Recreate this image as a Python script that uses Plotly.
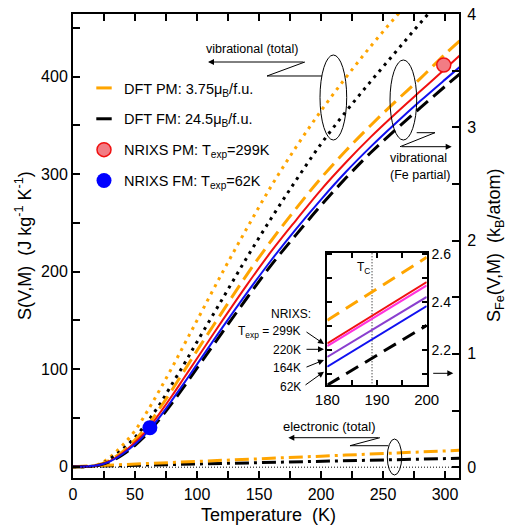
import plotly.graph_objects as go

# ---------------- data ----------------
T = [0, 10, 20, 30, 40, 50, 60, 70, 80, 90, 100, 120, 140, 160, 180, 200, 220, 240, 260, 280, 300, 312]
S_vib_total_PM = [0, 0, 2, 10, 22, 37, 57, 79, 102, 126, 150, 198, 244, 288, 328, 365, 399, 431, 461, 490, 518, 534]
S_vib_total_FM = [0, 0, 1.5, 8, 18, 30, 46, 64, 85, 106, 128, 171, 214, 255, 294, 331, 364, 395, 425, 455, 484, 501]
S_vib_Fe_PM = [0, 0.25, 1.8, 7, 15.5, 27.5, 42, 60, 79, 99, 119, 158, 196.5, 232, 265, 296, 324, 350, 374.5, 398, 423, 437]
S_nrixs_299K = [0, 0.2, 1.5, 6, 14, 25, 38, 55, 73, 92, 111, 149, 186, 221, 253, 284, 312, 338, 362, 385, 408, 422]
S_nrixs_62K = [0, 0.2, 1.4, 5.5, 13, 23, 35.5, 51, 68.5, 86.5, 105, 141.8, 177.7, 212, 244, 274, 302.2, 328, 352, 375, 397, 410]
S_vib_Fe_FM = [0, 0.2, 1.3, 5.2, 12.3, 22, 34, 49, 65.5, 83, 101, 137, 172.5, 207, 238, 268, 296, 322, 345.5, 368, 390, 403]
S_el_PM = [0, 0.5, 1.1, 1.6, 2.2, 2.7, 3.2, 3.8, 4.3, 4.9, 5.4, 6.5, 7.6, 8.6, 9.7, 10.8, 11.9, 13.0, 14.0, 15.1, 16.2, 16.8]
S_el_FM = [0, 0.3, 0.6, 0.8, 1.1, 1.4, 1.7, 1.9, 2.2, 2.5, 2.8, 3.3, 3.9, 4.4, 5.0, 5.5, 6.1, 6.6, 7.2, 7.8, 8.3, 8.6]
T_zero = [0, 312]
S_zero = [0, 0]

NRIXS_PM_T = [299]
NRIXS_PM_S = [412]
NRIXS_FM_T = [62]
NRIXS_FM_S = [40]

# inset (k_B/atom)
inset_T = [180, 200]
inset_DFT_PM = [2.324, 2.586]
inset_299K = [2.228, 2.483]
inset_220K = [2.217, 2.469]
inset_164K = [2.172, 2.421]
inset_62K = [2.131, 2.383]
inset_DFT_FM = [2.055, 2.303]
T_C = 189
inset_TC_y = [2.0, 2.7]

ORANGE = "#FFA500"
RED = "#F01010"
BLUE = "#1010F0"
MAGENTA = "#FF33DD"
PURPLE = "#8A3FCF"
FONT = "Liberation Sans, Arial, Helvetica, sans-serif"

W, H = 506, 527
ML, MR, MT, MB = 73, 47, 14, 49


def px(x):
    return (x - ML) / (W - ML - MR)


def py(y):
    return (H - MB - y) / (H - MT - MB)


fig = go.Figure()

DOT = "3px,5px"
DASH = "15px,7px"
DASHDOT = "14px,5px,3px,5px"

# zero reference (also anchors the right axis)
fig.add_trace(go.Scatter(x=T_zero, y=S_zero, mode="lines", yaxis="y2", showlegend=False,
                         line=dict(color="black", width=1, dash="1px,2px")))
# electronic
fig.add_trace(go.Scatter(x=T, y=S_el_FM, mode="lines", showlegend=False,
                         line=dict(color="black", width=3, dash=DASHDOT)))
fig.add_trace(go.Scatter(x=T, y=S_el_PM, mode="lines", showlegend=False,
                         line=dict(color=ORANGE, width=3, dash=DASHDOT)))
# vibrational total
fig.add_trace(go.Scatter(x=T, y=S_vib_total_PM, mode="lines", showlegend=False, line_shape="spline",
                         line=dict(color=ORANGE, width=3, dash=DOT)))
fig.add_trace(go.Scatter(x=T, y=S_vib_total_FM, mode="lines", showlegend=False, line_shape="spline",
                         line=dict(color="black", width=3, dash=DOT)))
# Fe partial
fig.add_trace(go.Scatter(x=T, y=S_vib_Fe_PM, mode="lines", showlegend=False, line_shape="spline",
                         line=dict(color=ORANGE, width=3, dash=DASH)))
fig.add_trace(go.Scatter(x=T, y=S_vib_Fe_FM, mode="lines", showlegend=False, line_shape="spline",
                         line=dict(color="black", width=3, dash=DASH)))
fig.add_trace(go.Scatter(x=T, y=S_nrixs_299K, mode="lines", showlegend=False, line_shape="spline",
                         line=dict(color=RED, width=2)))
fig.add_trace(go.Scatter(x=T, y=S_nrixs_62K, mode="lines", showlegend=False, line_shape="spline",
                         line=dict(color=BLUE, width=2)))

# legend entries
fig.add_trace(go.Scatter(x=[None], y=[None], mode="markers", name="DFT PM: 3.75μ<sub>B</sub>/f.u.",
                         legendgroup="a",
                         marker=dict(symbol="line-ew", size=11, line=dict(width=3, color=ORANGE))))
fig.add_trace(go.Scatter(x=[None], y=[None], mode="markers", name="DFT FM: 24.5μ<sub>B</sub>/f.u.",
                         legendgroup="b",
                         marker=dict(symbol="line-ew", size=11, line=dict(width=3, color="black"))))
fig.add_trace(go.Scatter(x=NRIXS_PM_T, y=NRIXS_PM_S, mode="markers", name="NRIXS PM: T<sub>exp</sub>=299K",
                         legendgroup="c",
                         marker=dict(symbol="circle", size=14, color="#F27C84", line=dict(width=1.5, color=RED))))
fig.add_trace(go.Scatter(x=NRIXS_FM_T, y=NRIXS_FM_S, mode="markers", name="NRIXS FM: T<sub>exp</sub>=62K",
                         legendgroup="d",
                         marker=dict(symbol="circle", size=15, color="#0000FF", line=dict(width=0))))

# inset traces
def inset_line(y, color, width, dash="solid"):
    fig.add_trace(go.Scatter(x=inset_T, y=y, mode="lines", xaxis="x3", yaxis="y3", showlegend=False,
                             line=dict(color=color, width=width, dash=dash)))


fig.add_trace(go.Scatter(x=[T_C, T_C], y=inset_TC_y, mode="lines", xaxis="x3", yaxis="y3", showlegend=False,
                         line=dict(color="black", width=1, dash="1px,2px")))
inset_line(inset_DFT_PM, ORANGE, 3, "14px,8px")
inset_line(inset_299K, RED, 2)
inset_line(inset_220K, MAGENTA, 2)
inset_line(inset_164K, PURPLE, 2)
inset_line(inset_62K, BLUE, 2)
inset_line(inset_DFT_FM, "black", 3, "14px,8px")

axis_common = dict(showgrid=False, zeroline=False, showline=True, linecolor="black", linewidth=2,
                   ticks="inside", ticklen=7, tickwidth=1.5, tickcolor="black", automargin=False,
                   tickfont=dict(size=16, family=FONT, color="black"))

fig.update_layout(
    width=W, height=H,
    margin=dict(l=ML, r=MR, t=MT, b=MB, autoexpand=False),
    paper_bgcolor="white", plot_bgcolor="white",
    font=dict(family=FONT, color="black"),
    legend=dict(x=px(84), y=py(72), xanchor="left", yanchor="top", bgcolor="rgba(0,0,0,0)",
                font=dict(size=14.5, family=FONT), tracegroupgap=9, itemsizing="trace"),
    xaxis=dict(range=[0, 311.3], dtick=50, tick0=0, mirror="ticks", ticklabelstandoff=1,
               minor=dict(dtick=25, ticks="inside", ticklen=7, tickwidth=1.5, tickcolor="black", showgrid=False),
               **axis_common),
    yaxis=dict(range=[-11.6, 464.3], dtick=100, tick0=0,
               minor=dict(dtick=50, ticks="inside", ticklen=7, tickwidth=1.5, tickcolor="black", showgrid=False),
               **axis_common),
    yaxis2=dict(range=[-0.0955, 4.0], dtick=1, tick0=0, overlaying="y", side="right", anchor="x",
                ticklabelstandoff=3,
                minor=dict(dtick=0.5, ticks="inside", ticklen=7, tickwidth=1.5, tickcolor="black", showgrid=False),
                **axis_common),
    xaxis3=dict(domain=[px(327.3), px(426.7)], anchor="y3", range=[180, 200], dtick=10, tick0=180,
                mirror="ticks", showgrid=False, zeroline=False, showline=True, linecolor="black", linewidth=2,
                ticks="inside", ticklen=5, tickwidth=1.5, tickcolor="black", automargin=False,
                minor=dict(dtick=5, ticks="inside", ticklen=5, tickwidth=1.5, tickcolor="black", showgrid=False),
                tickfont=dict(size=15, family=FONT)),
    yaxis3=dict(domain=[py(385.3), py(252.7)], anchor="x3", range=[2.054, 2.605], dtick=0.2, tick0=2.2,
                side="right", mirror="ticks", showgrid=False, zeroline=False, showline=True, linecolor="black",
                linewidth=2, ticks="inside", ticklen=5, tickwidth=1.5, tickcolor="black", automargin=False,
                minor=dict(dtick=0.1, ticks="inside", ticklen=5, tickwidth=1.5, tickcolor="black", showgrid=False),
                tickfont=dict(size=14, family=FONT)),
)

# ---------------- annotation graphics ----------------
shapes = []


def ellipse(x0, y0, x1, y1):
    shapes.append(dict(type="circle", xref="paper", yref="paper", x0=px(x0), x1=px(x1), y0=py(y1), y1=py(y0),
                       line=dict(color="black", width=1)))


def poly(points):
    d = "M " + " L ".join(f"{px(a):.4f},{py(b):.4f}" for a, b in points)
    shapes.append(dict(type="path", xref="paper", yref="paper", path=d, line=dict(color="black", width=1)))


ellipse(320, 55, 346.7, 140)
ellipse(390, 60, 416.7, 140)
ellipse(387.3, 439, 401.7, 475)
poly([(305, 62), (267, 76), (322, 76)])
poly([(416.7, 132.7), (435, 132.7), (400, 146.7)])
poly([(380, 437.7), (350, 445.7), (388.3, 445.7)])

annotations = []


def text(x, y, s, size=12, anchor="center", angle=0):
    annotations.append(dict(x=px(x), y=py(y), xref="paper", yref="paper", text=s, showarrow=False,
                            xanchor=anchor, yanchor="middle", textangle=angle,
                            font=dict(size=size, family=FONT, color="black")))


def arrow(hx, hy, tx, ty):
    annotations.append(dict(x=px(hx), y=py(hy), xref="paper", yref="paper", text="", showarrow=True,
                            ax=tx - hx, ay=ty - hy, arrowhead=2, arrowsize=1.2, arrowwidth=1, arrowcolor="black"))


# axis titles
text(268, 515, "Temperature  (K)", 18)
text(23, 246, "S(V,M)  (J kg<sup>-1</sup> K<sup>-1</sup>)", 18, angle=-90)
text(495, 246, "S<sub>Fe</sub>(V,M)  (k<sub>B</sub>/atom)", 18, angle=-90)

text(251.7, 49.3, "vibrational (total)", 12.5)
text(418.3, 158.3, "vibrational", 12.5)
text(420, 175, "(Fe partial)", 12.5)
text(329, 426.7, "electronic (total)", 13)
text(290.8, 314, "NRIXS:", 12)
text(303.3, 332.3, "T<sub>exp</sub> = 299K", 12, "right")
text(303.3, 350, "220K", 12, "right")
text(303.3, 368.3, "164K", 12, "right")
text(303.3, 386.7, "62K", 12, "right")
text(363.3, 268.3, "T<sub>C</sub>", 12)

arrow(208, 62, 305, 62)
arrow(451.7, 146.7, 400, 146.7)
arrow(288.3, 437.7, 380, 437.7)
arrow(324, 344, 305, 331)
arrow(324, 349.3, 305, 349.3)
arrow(324, 360, 305, 367.7)
arrow(324, 371.7, 304, 386)
arrow(453.3, 373.3, 431.7, 373.3)

fig.update_layout(shapes=shapes, annotations=annotations)

fig.write_html("out.html")
